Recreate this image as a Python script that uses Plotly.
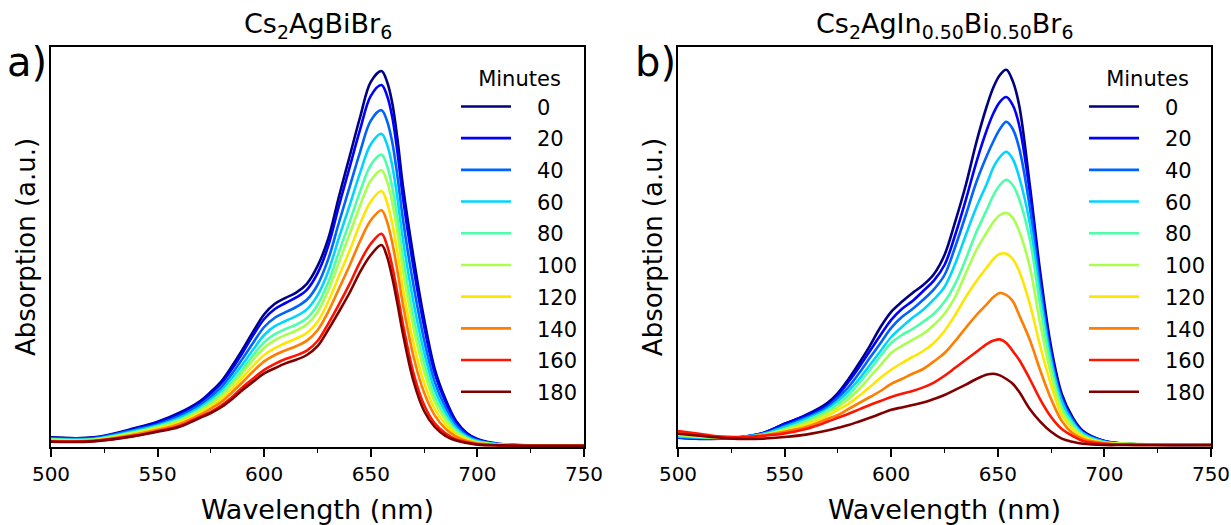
import plotly.graph_objects as go

# Irradiation time of each spectrum (minutes) and the jet-style colours used for them
minutes = [0, 20, 40, 60, 80, 100, 120, 140, 160, 180]
colors = ["#000080", "#0000ff", "#0063ff", "#00d4ff", "#4effa9",
          "#a9ff4d", "#ffe600", "#ff7d00", "#ff1400", "#800000"]

# ---- Panel a: Cs2AgBiBr6 ----
wl_a = [500, 520, 540, 550, 560, 570, 575, 580, 585, 590, 595, 600, 605, 610, 615, 620, 625,
        630, 635, 640, 645, 650, 655, 657.5, 660, 662.5, 665, 670, 675, 680, 685, 690, 695, 700, 710, 750]

a_t0 = [0.024, 0.024, 0.048, 0.063, 0.085, 0.115, 0.138, 0.165, 0.203, 0.245, 0.290, 0.332, 0.358, 0.373, 0.386, 0.408, 0.452,
        0.520, 0.625, 0.725, 0.825, 0.913, 0.940, 0.915, 0.862, 0.770, 0.655, 0.475, 0.320, 0.195, 0.120, 0.065, 0.035, 0.020, 0.008, 0.003]
a_t20 = [0.023, 0.023, 0.046, 0.061, 0.082, 0.112, 0.134, 0.160, 0.196, 0.237, 0.281, 0.320, 0.345, 0.360, 0.374, 0.393, 0.434,
         0.502, 0.602, 0.698, 0.794, 0.878, 0.905, 0.880, 0.827, 0.737, 0.626, 0.450, 0.302, 0.184, 0.113, 0.061, 0.033, 0.019, 0.007, 0.003]
a_t40 = [0.022, 0.022, 0.044, 0.057, 0.077, 0.106, 0.126, 0.150, 0.184, 0.222, 0.262, 0.300, 0.323, 0.337, 0.350, 0.368, 0.405,
         0.469, 0.560, 0.649, 0.738, 0.816, 0.842, 0.817, 0.764, 0.677, 0.572, 0.405, 0.268, 0.162, 0.099, 0.054, 0.029, 0.017, 0.007, 0.003]
a_t60 = [0.020, 0.020, 0.041, 0.054, 0.072, 0.100, 0.119, 0.142, 0.173, 0.208, 0.245, 0.280, 0.302, 0.315, 0.327, 0.344, 0.379,
         0.438, 0.522, 0.603, 0.686, 0.757, 0.783, 0.758, 0.705, 0.622, 0.522, 0.363, 0.237, 0.143, 0.087, 0.047, 0.026, 0.015, 0.007, 0.003]
a_t80 = [0.019, 0.019, 0.038, 0.051, 0.068, 0.095, 0.113, 0.134, 0.163, 0.196, 0.231, 0.262, 0.282, 0.295, 0.306, 0.322, 0.355,
         0.411, 0.487, 0.562, 0.639, 0.705, 0.731, 0.705, 0.652, 0.572, 0.477, 0.326, 0.210, 0.125, 0.076, 0.042, 0.023, 0.013, 0.006, 0.003]
a_t100 = [0.018, 0.018, 0.037, 0.049, 0.065, 0.091, 0.108, 0.128, 0.156, 0.187, 0.219, 0.248, 0.267, 0.280, 0.291, 0.307, 0.337,
          0.391, 0.461, 0.531, 0.604, 0.666, 0.692, 0.666, 0.613, 0.535, 0.444, 0.298, 0.189, 0.112, 0.068, 0.037, 0.021, 0.012, 0.006, 0.003]
a_t120 = [0.016, 0.017, 0.034, 0.046, 0.061, 0.086, 0.101, 0.120, 0.146, 0.175, 0.204, 0.230, 0.247, 0.260, 0.271, 0.285, 0.313,
          0.363, 0.427, 0.490, 0.558, 0.614, 0.640, 0.613, 0.560, 0.486, 0.400, 0.261, 0.161, 0.095, 0.057, 0.031, 0.018, 0.010, 0.005, 0.003]
a_t140 = [0.015, 0.016, 0.032, 0.043, 0.057, 0.081, 0.096, 0.113, 0.137, 0.163, 0.190, 0.214, 0.230, 0.242, 0.252, 0.266, 0.292,
          0.338, 0.395, 0.453, 0.515, 0.567, 0.592, 0.565, 0.512, 0.440, 0.359, 0.227, 0.136, 0.079, 0.046, 0.026, 0.015, 0.009, 0.005, 0.003]
a_t160 = [0.014, 0.015, 0.029, 0.040, 0.052, 0.076, 0.088, 0.104, 0.125, 0.150, 0.172, 0.193, 0.208, 0.220, 0.229, 0.241, 0.265,
          0.308, 0.356, 0.407, 0.463, 0.508, 0.533, 0.506, 0.453, 0.384, 0.309, 0.185, 0.105, 0.059, 0.034, 0.019, 0.012, 0.007, 0.004, 0.003]
a_t180 = [0.013, 0.014, 0.028, 0.038, 0.050, 0.073, 0.085, 0.100, 0.120, 0.143, 0.164, 0.184, 0.197, 0.209, 0.218, 0.230, 0.252,
          0.293, 0.338, 0.385, 0.438, 0.480, 0.505, 0.478, 0.425, 0.358, 0.285, 0.165, 0.090, 0.050, 0.028, 0.016, 0.010, 0.006, 0.004, 0.003]

# ---- Panel b: Cs2AgIn0.50Bi0.50Br6 ----
wl_b = [500, 510, 520, 530, 540, 550, 560, 570, 575, 580, 585, 590, 595, 600, 605, 610, 615, 620, 625,
        630, 635, 640, 645, 648, 651, 654, 657, 660, 665, 670, 675, 680, 685, 690, 700, 710, 750]

b_t0 = [0.023, 0.020, 0.021, 0.025, 0.035, 0.058, 0.080, 0.110, 0.135, 0.170, 0.210, 0.253, 0.300, 0.338, 0.363, 0.385, 0.405, 0.432, 0.480,
        0.563, 0.655, 0.763, 0.855, 0.900, 0.930, 0.943, 0.915, 0.855, 0.655, 0.433, 0.250, 0.133, 0.075, 0.040, 0.015, 0.008, 0.005]
b_t20 = [0.024, 0.021, 0.021, 0.025, 0.035, 0.058, 0.078, 0.105, 0.130, 0.163, 0.200, 0.240, 0.280, 0.318, 0.345, 0.365, 0.390, 0.416, 0.455,
         0.530, 0.618, 0.713, 0.795, 0.835, 0.863, 0.875, 0.855, 0.805, 0.638, 0.413, 0.238, 0.125, 0.070, 0.038, 0.015, 0.008, 0.005]
b_t40 = [0.025, 0.023, 0.021, 0.025, 0.033, 0.053, 0.073, 0.100, 0.123, 0.150, 0.185, 0.223, 0.260, 0.298, 0.325, 0.345, 0.368, 0.394, 0.430,
         0.500, 0.580, 0.663, 0.730, 0.765, 0.795, 0.813, 0.795, 0.748, 0.600, 0.395, 0.225, 0.120, 0.068, 0.035, 0.014, 0.008, 0.005]
b_t60 = [0.026, 0.024, 0.023, 0.025, 0.033, 0.050, 0.070, 0.095, 0.115, 0.140, 0.170, 0.205, 0.240, 0.275, 0.300, 0.323, 0.343, 0.369, 0.400,
         0.458, 0.530, 0.600, 0.660, 0.700, 0.725, 0.738, 0.720, 0.675, 0.560, 0.375, 0.215, 0.113, 0.063, 0.034, 0.013, 0.008, 0.005]
b_t80 = [0.030, 0.025, 0.023, 0.024, 0.030, 0.045, 0.065, 0.090, 0.108, 0.130, 0.160, 0.193, 0.228, 0.260, 0.280, 0.295, 0.313, 0.333, 0.363,
         0.408, 0.470, 0.538, 0.595, 0.630, 0.655, 0.668, 0.655, 0.620, 0.520, 0.350, 0.200, 0.100, 0.058, 0.030, 0.011, 0.008, 0.005]
b_t100 = [0.031, 0.026, 0.023, 0.024, 0.030, 0.043, 0.060, 0.085, 0.100, 0.120, 0.145, 0.175, 0.205, 0.235, 0.253, 0.268, 0.283, 0.305, 0.333,
          0.375, 0.435, 0.493, 0.538, 0.563, 0.580, 0.585, 0.573, 0.540, 0.450, 0.305, 0.180, 0.090, 0.050, 0.028, 0.011, 0.008, 0.005]
b_t120 = [0.034, 0.028, 0.024, 0.024, 0.029, 0.040, 0.055, 0.078, 0.093, 0.108, 0.128, 0.150, 0.173, 0.193, 0.210, 0.225, 0.240, 0.260, 0.290,
          0.330, 0.375, 0.415, 0.450, 0.470, 0.483, 0.483, 0.470, 0.440, 0.358, 0.250, 0.155, 0.080, 0.045, 0.025, 0.010, 0.008, 0.005]
b_t140 = [0.038, 0.030, 0.025, 0.024, 0.029, 0.038, 0.050, 0.070, 0.080, 0.095, 0.110, 0.125, 0.140, 0.158, 0.170, 0.183, 0.195, 0.214, 0.235,
          0.265, 0.298, 0.330, 0.358, 0.375, 0.385, 0.380, 0.365, 0.330, 0.268, 0.190, 0.120, 0.065, 0.035, 0.020, 0.009, 0.006, 0.005]
b_t160 = [0.040, 0.033, 0.026, 0.025, 0.028, 0.034, 0.045, 0.063, 0.073, 0.083, 0.094, 0.105, 0.115, 0.125, 0.133, 0.140, 0.149, 0.161, 0.178,
          0.198, 0.218, 0.238, 0.258, 0.266, 0.269, 0.260, 0.240, 0.218, 0.170, 0.118, 0.075, 0.045, 0.028, 0.015, 0.008, 0.006, 0.005]
b_t180 = [0.033, 0.028, 0.023, 0.020, 0.021, 0.025, 0.031, 0.041, 0.048, 0.055, 0.064, 0.073, 0.083, 0.093, 0.099, 0.105, 0.111, 0.120, 0.130,
          0.143, 0.156, 0.170, 0.181, 0.183, 0.179, 0.170, 0.158, 0.138, 0.095, 0.063, 0.038, 0.021, 0.013, 0.008, 0.005, 0.005, 0.005]

series_a = [a_t0, a_t20, a_t40, a_t60, a_t80, a_t100, a_t120, a_t140, a_t160, a_t180]
series_b = [b_t0, b_t20, b_t40, b_t60, b_t80, b_t100, b_t120, b_t140, b_t160, b_t180]

title_a = "Cs<sub>2</sub>AgBiBr<sub>6</sub>"
title_b = "Cs<sub>2</sub>AgIn<sub>0.50</sub>Bi<sub>0.50</sub>Br<sub>6</sub>"

FONT = "DejaVu Sans"
W, H = 1231, 525
SP = "\u2002\u2002"  # gap between legend line and its label

fig = go.Figure()

for panel, (wl, series, xa, ya, lg) in enumerate([
        (wl_a, series_a, "x", "y", "legend"),
        (wl_b, series_b, "x2", "y2", "legend2")]):
    for m, vals, col in zip(minutes, series, colors):
        assert len(vals) == len(wl)
        fig.add_trace(go.Scatter(
            x=wl, y=vals, mode="lines", name=SP + str(m),
            line=dict(color=col, width=2.6, shape="spline", smoothing=1.0),
            xaxis=xa, yaxis=ya, legend=lg,
            legendgroup=f"p{panel}_{m}", showlegend=True,
        ))

dom_a = [51 / W, 584 / W]
dom_b = [678 / W, 1211 / W]
dom_y = [(H - 447) / H, (H - 47) / H]

def xaxis_style(domain, anchor):
    return dict(
        domain=domain, anchor=anchor, range=[500, 750], automargin=False,
        ticklabeloverflow="allow",
        tick0=500, dtick=50, ticks="outside", ticklen=8, tickwidth=1.5, tickcolor="black",
        minor=dict(dtick=25, ticks="outside", ticklen=4, tickwidth=1.2, tickcolor="black", showgrid=False),
        showline=True, mirror=True, linecolor="black", linewidth=1.6,
        showgrid=False, zeroline=False,
        tickfont=dict(family=FONT, size=20, color="black"),
        title=dict(text="Wavelength (nm)", font=dict(family=FONT, size=27, color="black"), standoff=15),
    )

def yaxis_style(anchor):
    return dict(
        domain=dom_y, anchor=anchor, range=[0, 1.0], automargin=False,
        showticklabels=False, ticks="",
        showline=True, mirror=True, linecolor="black", linewidth=1.6,
        showgrid=False, zeroline=False,
        title=dict(text="Absorption (a.u.)", font=dict(family=FONT, size=26, color="black"), standoff=6),
    )

def legend_style(x):
    return dict(
        x=x, y=(H - 59) / H, xanchor="left", yanchor="top",
        bgcolor="rgba(0,0,0,0)", borderwidth=0,
        font=dict(family=FONT, size=21, color="black"),
        title=dict(text="Minutes", side="top center", font=dict(family=FONT, size=21, color="black")),
        tracegroupgap=1.4, itemwidth=50,
    )

fig.update_layout(
    width=W, height=H,
    margin=dict(l=0, r=0, t=0, b=0),
    paper_bgcolor="white", plot_bgcolor="white",
    font=dict(family=FONT, color="black"),
    xaxis=xaxis_style(dom_a, "y"),
    yaxis=yaxis_style("x"),
    xaxis2=xaxis_style(dom_b, "y2"),
    yaxis2=yaxis_style("x2"),
    legend=legend_style(456 / W),
    legend2=legend_style(1084 / W),
    annotations=[
        dict(text=title_a, x=(dom_a[0] + dom_a[1]) / 2, y=(H - 25) / H, xref="paper", yref="paper",
             showarrow=False, xanchor="center", yanchor="middle",
             font=dict(family=FONT, size=27, color="black")),
        dict(text=title_b, x=(dom_b[0] + dom_b[1]) / 2, y=(H - 25) / H, xref="paper", yref="paper",
             showarrow=False, xanchor="center", yanchor="middle",
             font=dict(family=FONT, size=27, color="black")),
        dict(text="a)", x=27 / W, y=(H - 62) / H, xref="paper", yref="paper",
             showarrow=False, xanchor="center", yanchor="middle",
             font=dict(family=FONT, size=40, color="black")),
        dict(text="b)", x=655 / W, y=(H - 62) / H, xref="paper", yref="paper",
             showarrow=False, xanchor="center", yanchor="middle",
             font=dict(family=FONT, size=40, color="black")),
    ],
)

fig.write_html("out.html")
